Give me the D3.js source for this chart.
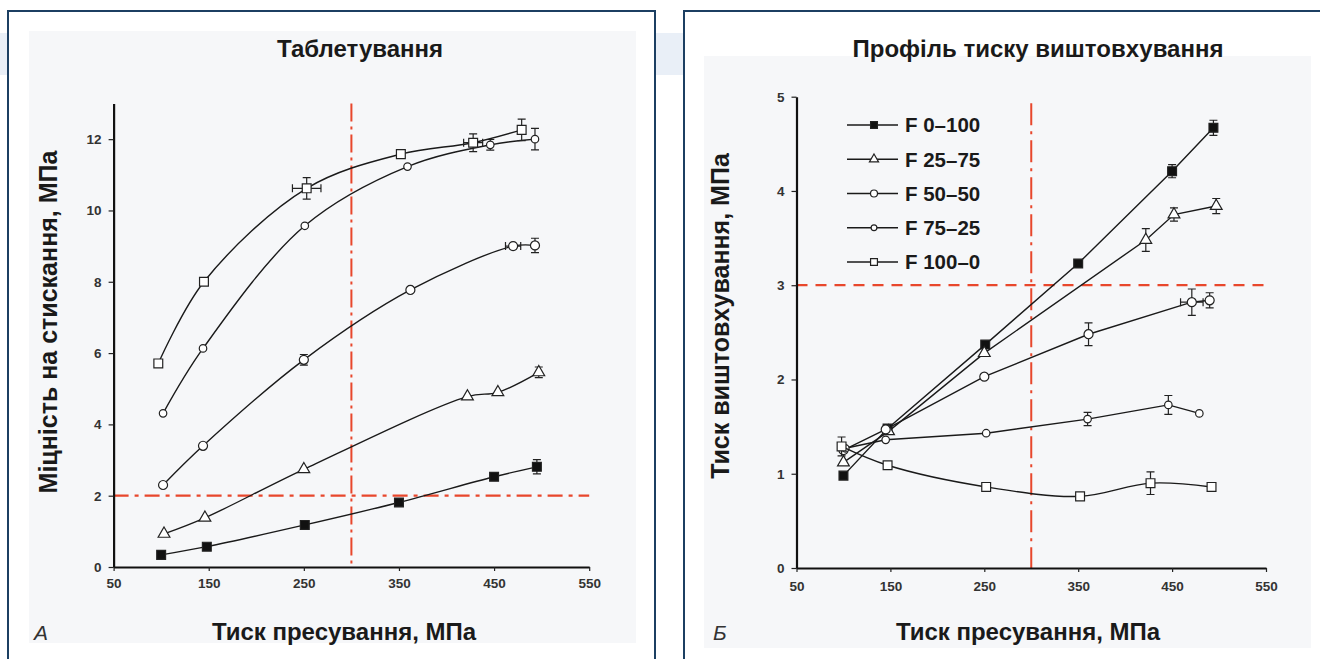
<!DOCTYPE html>
<html>
<head>
<meta charset="utf-8">
<script src="https://cdn.jsdelivr.net/npm/d3@7"></script>
<style>
  body { margin: 0; background: #fff; }
  svg { display: block; }
</style>
</head>
<body>
<script>
// series shared by both charts
const seriesNames = ["F 0–100", "F 25–75", "F 50–50", "F 75–25", "F 100–0"];
const markerKinds = ["filledSquare", "triangle", "circle", "smallCircle", "square"];
const xTickValues = [50, 150, 250, 350, 450, 550];

// A: Таблетування (tensile strength vs compaction pressure)
const tabYTicks = [0, 2, 4, 6, 8, 10, 12];
const tabPress = [
  [100, 148, 251, 350, 450, 495],
  [103, 146, 250, 422, 454, 497],
  [102, 144, 250, 362, 470, 493],
  [102, 144, 251, 359, 446, 493],
  [97, 145, 253, 352, 428, 479]
];
const tabStrength = [
  [0.34, 0.57, 1.18, 1.81, 2.53, 2.81],
  [0.93, 1.38, 2.74, 4.78, 4.90, 5.46],
  [2.30, 3.40, 5.81, 7.77, 9.00, 9.02],
  [4.31, 6.13, 9.57, 11.23, 11.84, 12.00],
  [5.71, 8.00, 10.62, 11.58, 11.90, 12.26]
];
const tabErrY = [
  [0, 0, 0, 0, 0, 0.2],
  [0, 0, 0, 0, 0, 0.15],
  [0, 0, 0.15, 0, 0, 0.2],
  [0, 0, 0, 0, 0.15, 0.3],
  [0, 0, 0.3, 0, 0.25, 0.3]
];
const tabErrX = [
  [0, 0, 0, 0, 0, 0],
  [0, 0, 0, 0, 0, 0],
  [0, 0, 0, 0, 8, 0],
  [0, 0, 0, 0, 0, 0],
  [0, 0, 15, 0, 10, 0]
];

// Б: Профіль тиску виштовхування (ejection pressure vs compaction pressure)
const ejYTicks = [0, 1, 2, 3, 4, 5];
const ejPress = [
  [100, 147, 251, 350, 450, 494],
  [100, 148, 250, 422, 452, 497],
  [100, 145, 250, 361, 471, 490],
  [102, 145, 252, 360, 446, 479],
  [98, 147, 252, 352, 427, 492]
];
const ejPressure = [
  [0.98, 1.48, 2.37, 3.23, 4.21, 4.67],
  [1.12, 1.45, 2.28, 3.48, 3.75, 3.84],
  [1.25, 1.47, 2.03, 2.48, 2.82, 2.84],
  [1.27, 1.36, 1.43, 1.58, 1.73, 1.64],
  [1.29, 1.09, 0.86, 0.76, 0.90, 0.86]
];
const ejErrY = [
  [0, 0, 0, 0, 0.07, 0.08],
  [0, 0, 0, 0.12, 0.07, 0.08],
  [0, 0, 0, 0.12, 0.14, 0.08],
  [0, 0, 0, 0.07, 0.1, 0],
  [0.1, 0, 0, 0, 0.12, 0]
];
const ejErrX = [
  [0, 0, 0, 0, 0, 0],
  [0, 0, 0, 0, 0, 0],
  [0, 0, 0, 0, 12, 0],
  [0, 0, 0, 0, 0, 0],
  [0, 0, 0, 0, 0, 0]
];

const W = 1320, H = 659;
const red = "#e8472c";
const font = "'Liberation Sans', Arial, sans-serif";

const svg = d3.select("body").append("svg")
  .attr("width", W)
  .attr("height", H)
  .style("font-family", font);

// page decoration: faint band behind panels, two framed panels
svg.append("rect").attr("x", 0).attr("y", 33).attr("width", W).attr("height", 42).attr("fill", "#e9eff7");

svg.append("rect").attr("x", 8).attr("y", 11).attr("width", 647).attr("height", 680)
  .attr("fill", "#fff").attr("stroke", "#1c3f62").attr("stroke-width", 2);
svg.append("rect").attr("x", 684).attr("y", 11).attr("width", 700).attr("height", 680)
  .attr("fill", "#fff").attr("stroke", "#1c3f62").attr("stroke-width", 2);

svg.append("rect").attr("x", 29).attr("y", 31).attr("width", 607).attr("height", 612).attr("fill", "#f6f7f9");
svg.append("rect").attr("x", 704).attr("y", 56).attr("width", 607).attr("height", 592).attr("fill", "#f6f7f9");

function marker(g, kind, x, y, scale) {
  let type = d3.symbolSquare, size = 78, fill = "#fff";
  if (kind === "filledSquare") fill = "#111";
  if (kind === "triangle") { type = d3.symbolTriangle; size = 60; }
  if (kind === "circle") { type = d3.symbolCircle; size = 64; }
  if (kind === "smallCircle") { type = d3.symbolCircle; size = 44; }
  g.append("path")
    .attr("d", d3.symbol().type(type).size(size * scale)())
    .attr("transform", `translate(${x},${y})`)
    .attr("fill", fill)
    .attr("stroke", "#222")
    .attr("stroke-width", 1.2);
}

function drawChart(opt) {
  const g = svg.append("g");
  const x = d3.scaleLinear().domain([50, 550]).range(opt.xRange);
  const y = d3.scaleLinear().domain([0, opt.yMax]).range(opt.yRange);

  // reference lines
  g.append("line")
    .attr("x1", x(300)).attr("x2", x(300))
    .attr("y1", y(opt.vTop)).attr("y2", y(0))
    .attr("stroke", red).attr("stroke-width", 2)
    .attr("stroke-dasharray", opt.vDash);
  g.append("line")
    .attr("x1", x(50)).attr("x2", x(550))
    .attr("y1", y(opt.hLevel)).attr("y2", y(opt.hLevel))
    .attr("stroke", red).attr("stroke-width", 2.2)
    .attr("stroke-dasharray", opt.hDash);

  // axes
  const xAxis = g.append("g")
    .attr("transform", `translate(0,${opt.yRange[0]})`)
    .call(d3.axisBottom(x).tickValues(xTickValues).tickFormat(d3.format("d"))
      .tickSize(4).tickPadding(opt.xPad).tickSizeOuter(0));
  const yAxis = g.append("g")
    .attr("transform", `translate(${opt.xRange[0]},0)`)
    .call(d3.axisLeft(y).tickValues(opt.yTicks).tickFormat(d3.format("d"))
      .tickSize(5).tickPadding(7).tickSizeOuter(0));
  [xAxis, yAxis].forEach(a => {
    a.select(".domain").attr("stroke", "#111").attr("stroke-width", 2.2);
    a.selectAll(".tick line").attr("stroke", "#222").attr("stroke-width", 1.2);
    a.selectAll(".tick text")
      .attr("fill", "#333")
      .attr("font-size", 13.5)
      .attr("font-weight", "bold")
      .attr("font-family", font);
  });

  // series
  opt.xs.forEach((xs, s) => {
    const pts = xs.map((v, i) => ({
      x: v, y: opt.ys[s][i], ey: opt.ey[s][i], ex: opt.ex[s][i]
    }));
    const line = d3.line().x(d => x(d.x)).y(d => y(d.y)).curve(opt.curves[s]);
    g.append("path")
      .attr("d", line(pts))
      .attr("fill", "none")
      .attr("stroke", "#1a1a1a")
      .attr("stroke-width", 1.4);

    pts.forEach(d => {
      if (d.ey > 0) {
        g.append("path")
          .attr("d", `M${x(d.x)},${y(d.y - d.ey)}V${y(d.y + d.ey)}` +
            `M${x(d.x) - 4},${y(d.y - d.ey)}h8M${x(d.x) - 4},${y(d.y + d.ey)}h8`)
          .attr("stroke", "#222").attr("stroke-width", 1.2).attr("fill", "none");
      }
      if (d.ex > 0) {
        g.append("path")
          .attr("d", `M${x(d.x - d.ex)},${y(d.y)}H${x(d.x + d.ex)}` +
            `M${x(d.x - d.ex)},${y(d.y) - 4}v8M${x(d.x + d.ex)},${y(d.y) - 4}v8`)
          .attr("stroke", "#222").attr("stroke-width", 1.2).attr("fill", "none");
      }
      marker(g, markerKinds[s], x(d.x), y(d.y), 1);
    });
  });

  // texts
  g.append("text")
    .attr("x", opt.titleX).attr("y", 57)
    .attr("text-anchor", "middle")
    .attr("font-size", 24).attr("font-weight", "bold").attr("fill", "#1a1a1a")
    .text(opt.title);
  g.append("text")
    .attr("transform", `translate(${opt.yLabelX},${opt.yLabelY}) rotate(-90)`)
    .attr("text-anchor", "middle")
    .attr("font-size", 25).attr("font-weight", "bold").attr("fill", "#1a1a1a")
    .text(opt.yLabel);
  g.append("text")
    .attr("x", opt.xLabelX).attr("y", 640)
    .attr("text-anchor", "middle")
    .attr("font-size", 24).attr("font-weight", "bold").attr("fill", "#1a1a1a")
    .text("Тиск пресування, МПа");
  g.append("text")
    .attr("x", opt.letterX).attr("y", 640)
    .attr("font-size", 21).attr("font-style", "italic").attr("fill", "#333")
    .text(opt.letter);

  return { g, x, y };
}

drawChart({
  xRange: [113.6, 589.2],
  yRange: [567, 103.5],
  yMax: 13,
  yTicks: tabYTicks,
  xPad: 7,
  vTop: 13,
  hLevel: 2,
  vDash: "18,5,3,5",
  hDash: "15,6,4,6",
  xs: tabPress,
  ys: tabStrength,
  ey: tabErrY,
  ex: tabErrX,
  curves: seriesNames.map(() => d3.curveCatmullRom),
  title: "Таблетування",
  titleX: 360,
  yLabel: "Міцність на стискання, МПа",
  yLabelX: 57,
  yLabelY: 322,
  xLabelX: 344,
  letter: "А",
  letterX: 34
});

const right = drawChart({
  xRange: [796.5, 1266],
  yRange: [568, 96.7],
  yMax: 5,
  yTicks: ejYTicks,
  xPad: 9,
  vTop: 4.93,
  hLevel: 3,
  vDash: "22,6,3,6",
  hDash: "11,8",
  xs: ejPress,
  ys: ejPressure,
  ey: ejErrY,
  ex: ejErrX,
  curves: [d3.curveLinear, d3.curveLinear, d3.curveLinear, d3.curveLinear, d3.curveCatmullRom],
  title: "Профіль тиску виштовхування",
  titleX: 1038,
  yLabel: "Тиск виштовхування, МПа",
  yLabelX: 729,
  yLabelY: 316,
  xLabelX: 1028,
  letter: "Б",
  letterX: 713
});

// legend in chart Б
const legendY = d3.scalePoint().domain(seriesNames).range([125, 262]);
const legend = right.g.append("g");
seriesNames.forEach((name, s) => {
  const ly = legendY(name);
  legend.append("line")
    .attr("x1", 847).attr("x2", 898).attr("y1", ly).attr("y2", ly)
    .attr("stroke", "#1a1a1a").attr("stroke-width", 1.4);
  marker(legend, markerKinds[s], 874, ly, 0.6);
  legend.append("text")
    .attr("x", 905).attr("y", ly)
    .attr("dy", "0.36em")
    .attr("font-size", 20.5).attr("font-weight", "bold").attr("fill", "#1a1a1a")
    .text(name);
});
</script>
</body>
</html>
